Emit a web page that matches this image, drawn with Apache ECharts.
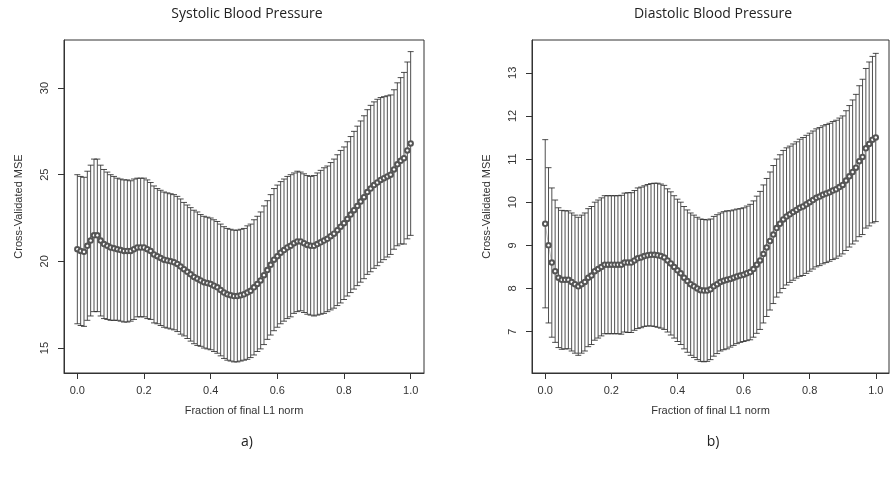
<!DOCTYPE html>
<html><head><meta charset="utf-8">
<script src="https://cdn.jsdelivr.net/npm/echarts@6/dist/echarts.min.js"></script>
<style>html,body{margin:0;background:#fff}#c{width:891px;height:479px}</style>
</head><body><div id="c"></div>
<script>
// 101 steps of fraction of final L1 norm, 0.00 .. 1.00
var fractions = [];
for (var i = 0; i <= 100; i++) fractions.push(i / 100);

// systolic: mean CV error and half-width of error bar
var sysMean = [20.7,20.6,20.55,20.9,21.2,21.5,21.5,21.2,21.0,20.9,20.8,20.75,20.7,20.65,20.6,20.6,20.6,20.7,20.8,20.8,
  20.8,20.7,20.6,20.4,20.3,20.2,20.1,20.05,20.0,19.95,19.85,19.7,19.55,19.4,19.25,19.1,19.0,18.9,18.8,18.75,
  18.7,18.6,18.5,18.35,18.2,18.1,18.05,18.0,18.0,18.05,18.1,18.2,18.3,18.5,18.7,18.9,19.2,19.5,19.8,20.1,
  20.3,20.5,20.65,20.8,20.9,21.05,21.15,21.15,21.05,20.95,20.9,20.9,21.0,21.1,21.2,21.3,21.45,21.6,21.8,22.0,
  22.2,22.45,22.7,22.95,23.2,23.45,23.7,24.0,24.2,24.4,24.55,24.7,24.8,24.9,25.0,25.3,25.6,25.8,25.95,26.4,26.8];
var sysSd = [4.3,4.3,4.3,4.3,4.35,4.4,4.4,4.35,4.3,4.25,4.2,4.15,4.1,4.1,4.1,4.1,4.05,4.05,4.0,4.0,
  4.0,4.0,3.95,3.95,3.9,3.9,3.9,3.9,3.9,3.9,3.9,3.9,3.85,3.85,3.85,3.85,3.85,3.8,3.8,3.8,
  3.8,3.8,3.8,3.8,3.8,3.8,3.8,3.8,3.8,3.8,3.8,3.85,3.85,3.9,3.9,3.95,4.0,4.0,4.05,4.1,
  4.1,4.1,4.1,4.1,4.1,4.05,4.05,4.0,4.0,4.0,4.0,4.05,4.1,4.15,4.2,4.2,4.25,4.3,4.35,4.4,
  4.4,4.45,4.5,4.55,4.6,4.65,4.7,4.75,4.8,4.8,4.8,4.75,4.7,4.65,4.6,4.6,4.7,4.8,4.95,5.1,5.3];

// diastolic
var diaMean = [9.5,9.0,8.6,8.4,8.25,8.2,8.2,8.2,8.15,8.1,8.05,8.1,8.15,8.25,8.3,8.4,8.45,8.5,8.55,8.55,
  8.55,8.55,8.55,8.55,8.6,8.6,8.6,8.65,8.7,8.72,8.75,8.77,8.78,8.78,8.77,8.75,8.72,8.65,8.58,8.5,
  8.42,8.35,8.25,8.17,8.1,8.05,8.0,7.96,7.95,7.95,7.98,8.05,8.1,8.15,8.18,8.2,8.22,8.25,8.28,8.3,
  8.32,8.35,8.38,8.45,8.55,8.65,8.8,8.95,9.1,9.25,9.4,9.5,9.6,9.67,9.72,9.77,9.82,9.87,9.9,9.95,
  10.0,10.05,10.1,10.13,10.17,10.2,10.23,10.27,10.3,10.35,10.4,10.5,10.6,10.7,10.8,10.95,11.05,11.25,11.35,11.45,11.5];
var diaSd = [1.95,1.8,1.73,1.65,1.62,1.61,1.6,1.6,1.6,1.6,1.6,1.6,1.6,1.6,1.6,1.6,1.6,1.6,1.6,1.6,
  1.6,1.6,1.6,1.61,1.61,1.62,1.62,1.62,1.63,1.63,1.63,1.64,1.65,1.66,1.67,1.67,1.67,1.66,1.66,1.65,
  1.65,1.65,1.65,1.65,1.65,1.65,1.65,1.65,1.65,1.64,1.63,1.62,1.61,1.6,1.6,1.6,1.58,1.57,1.56,1.55,
  1.55,1.56,1.57,1.58,1.59,1.6,1.6,1.6,1.6,1.6,1.6,1.6,1.6,1.59,1.58,1.58,1.58,1.59,1.6,1.6,
  1.6,1.6,1.6,1.6,1.6,1.6,1.6,1.6,1.6,1.6,1.6,1.62,1.64,1.67,1.7,1.75,1.8,1.85,1.9,1.93,1.95];

var xTicks = [0, 0.2, 0.4, 0.6, 0.8, 1.0];
var sysTicks = [15, 20, 25, 30];
var diaTicks = [7, 8, 9, 10, 11, 12, 13];

var txt = {fontFamily: 'Liberation Sans, Arial', fontSize: 11, color: '#333'};

function barData(mean, sd) {
	var d = [];
	for (var i = 0; i < mean.length; i++) d.push([fractions[i], mean[i] - sd[i], mean[i] + sd[i]]);
	return d;
}
function ptData(mean) {
	return mean.map(function (v, i) { return [fractions[i], v]; });
}
function renderBar(params, api) {
	var x = api.value(0);
	var lo = api.coord([x, api.value(1)]);
	var hi = api.coord([x, api.value(2)]);
	var h = 3;
	var st = {stroke: '#222', lineWidth: 0.8};
	return {type: 'group', children: [
		{type: 'line', shape: {x1: lo[0], y1: lo[1], x2: hi[0], y2: hi[1]}, style: st},
		{type: 'line', shape: {x1: lo[0] - h, y1: lo[1], x2: lo[0] + h, y2: lo[1]}, style: st},
		{type: 'line', shape: {x1: hi[0] - h, y1: hi[1], x2: hi[0] + h, y2: hi[1]}, style: st}
	]};
}
function xAx(idx) {
	return {type: 'value', gridIndex: idx, min: -0.04, max: 1.04,
		name: 'Fraction of final L1 norm', nameLocation: 'middle', nameGap: 32,
		nameTextStyle: txt,
		axisLine: {show: true, onZero: false, lineStyle: {color: '#333'}}, splitLine: {show: false},
		axisTick: {show: true, inside: false, length: 6, customValues: xTicks, lineStyle: {color: '#333'}},
		axisLabel: Object.assign({customValues: xTicks, margin: 12, formatter: function (v) { return v.toFixed(1); }}, txt)};
}
function yAx(idx, min, max, ticks) {
	return {type: 'value', gridIndex: idx, min: min, max: max,
		name: 'Cross-Validated MSE', nameLocation: 'middle', nameGap: 40,
		nameTextStyle: txt,
		axisLine: {show: true, onZero: false, lineStyle: {color: '#333'}}, splitLine: {show: false},
		axisTick: {show: true, inside: false, length: 6, customValues: ticks, lineStyle: {color: '#333'}},
		axisLabel: Object.assign({customValues: ticks, rotate: 90, margin: 14}, txt)};
}

var ttl = {fontFamily: 'Open Sans', fontSize: 14, fontWeight: 'normal', color: '#222'};
var chart = echarts.init(document.getElementById('c'));
chart.setOption({
	animation: false,
	title: [
		{text: 'Systolic Blood Pressure', left: 242, top: 2, textAlign: 'center', textStyle: ttl},
		{text: 'Diastolic Blood Pressure', left: 708, top: 2, textAlign: 'center', textStyle: ttl},
		{text: 'a)', left: 242, top: 430, textAlign: 'center', textStyle: ttl},
		{text: 'b)', left: 708, top: 430, textAlign: 'center', textStyle: ttl}
	],
	grid: [
		{left: 64, top: 40, width: 360, height: 333, show: true, borderColor: '#333', borderWidth: 1},
		{left: 532, top: 40, width: 357, height: 333, show: true, borderColor: '#333', borderWidth: 1}
	],
	xAxis: [xAx(0), xAx(1)],
	yAxis: [yAx(0, 13.56, 32.77, sysTicks), yAx(1, 6.04, 13.76, diaTicks)],
	series: [
		{type: 'custom', xAxisIndex: 0, yAxisIndex: 0, renderItem: renderBar, data: barData(sysMean, sysSd)},
		{type: 'line', xAxisIndex: 0, yAxisIndex: 0, data: ptData(sysMean), symbol: 'emptyCircle', symbolSize: 4.5,
			lineStyle: {width: 0.4, color: '#555'}, itemStyle: {color: '#555', borderWidth: 0.6}},
		{type: 'custom', xAxisIndex: 1, yAxisIndex: 1, renderItem: renderBar, data: barData(diaMean, diaSd)},
		{type: 'line', xAxisIndex: 1, yAxisIndex: 1, data: ptData(diaMean), symbol: 'emptyCircle', symbolSize: 4.5,
			lineStyle: {width: 0.4, color: '#555'}, itemStyle: {color: '#555', borderWidth: 0.6}}
	]
});
</script>
</body></html>
